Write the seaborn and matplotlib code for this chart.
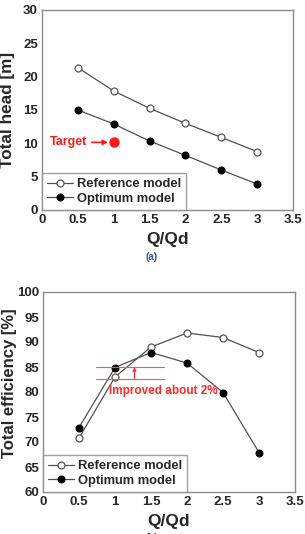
import matplotlib
matplotlib.use("Agg")
import matplotlib.pyplot as plt
import seaborn as sns
import pandas as pd

flow = [0.5, 1.0, 1.5, 2.0, 2.5, 3.0]
head_ref = [21.35, 17.85, 15.25, 13.0, 10.9, 8.75]
head_opt = [15.0, 12.9, 10.35, 8.2, 6.0, 3.9]
eff_ref = [70.8, 83.0, 89.0, 91.8, 90.9, 87.9]
eff_opt = [72.9, 84.9, 87.9, 85.8, 79.9, 67.9]
target_q, target_head = 1.0, 10.15
eff_lines = [85.0, 82.7]
x_ticks = [0, 0.5, 1, 1.5, 2, 2.5, 3, 3.5]
x_ticklabels = ["0", "0.5", "1", "1.5", "2", "2.5", "3", "3.5"]

sns.set_theme(style="white")
plt.rcParams['font.family'] = ['Liberation Sans', 'DejaVu Sans']
plt.rcParams['font.weight'] = 'bold'

fig = plt.figure(figsize=(3.05, 5.34), dpi=100)
W, H = 305, 534
ax1 = fig.add_axes([42 / W, (H - 210) / H, 251 / W, 200 / H])
ax2 = fig.add_axes([43 / W, (H - 492) / H, 252 / W, 200 / H])

line_c = "#505050"
frame_c = "#8a8a8a"


def draw(ax, yref, yopt):
    df_ref = pd.DataFrame({"x": flow, "y": yref})
    df_opt = pd.DataFrame({"x": flow, "y": yopt})
    sns.lineplot(data=df_ref, x="x", y="y", ax=ax, color=line_c, lw=0.9,
                 marker="o", markersize=5, markerfacecolor="white",
                 markeredgecolor="#555555", markeredgewidth=0.9,
                 label="Reference model")
    sns.lineplot(data=df_opt, x="x", y="y", ax=ax, color=line_c, lw=0.9,
                 marker="o", markersize=5, markerfacecolor="black",
                 markeredgecolor="black", label="Optimum model")
    ax.set_xlim(0, 3.5)
    ax.set_xticks(x_ticks)
    ax.set_xticklabels(x_ticklabels)
    ax.tick_params(axis="both", length=0, labelsize=9.5, pad=3)
    for lab in ax.get_xticklabels() + ax.get_yticklabels():
        lab.set_fontweight("bold")
    for s in ax.spines.values():
        s.set_color(frame_c)
        s.set_linewidth(1.0)
    ax.set_xlabel("Q/Qd", fontsize=12.5, fontweight="bold", labelpad=4)
    leg = ax.legend(loc="lower left", frameon=True, fancybox=False,
                    borderaxespad=0, edgecolor=frame_c, fontsize=9.3,
                    handlelength=2.0, handletextpad=0.3, borderpad=0.4,
                    labelspacing=0.2)
    leg.get_frame().set_linewidth(1.0)
    for t in leg.get_texts():
        t.set_fontweight("bold")


draw(ax1, head_ref, head_opt)
ax1.set_ylim(0, 30)
ax1.set_yticks([0, 5, 10, 15, 20, 25, 30])
ax1.set_ylabel("Total head [m]", fontsize=12.3, fontweight="bold")
ax1.yaxis.set_label_coords(-0.108, 0.5)
ax1.plot([target_q], [target_head], "o", color="#ff1a1a", markersize=6.5)
ax1.annotate("Target", xy=(0.92, target_head), xytext=(0.63, target_head),
             ha="right", va="center", color="#ff1a1a", fontsize=9,
             fontweight="bold",
             arrowprops=dict(arrowstyle="-|>", color="#ff1a1a", lw=1.2,
                             mutation_scale=7, shrinkA=1, shrinkB=0))

draw(ax2, eff_ref, eff_opt)
ax2.set_ylim(60, 100)
ax2.set_yticks([60, 65, 70, 75, 80, 85, 90, 95, 100])
ax2.set_ylabel("Total efficiency [%]", fontsize=12, fontweight="bold")
ax2.yaxis.set_label_coords(-0.103, 0.545)
for yv in eff_lines:
    ax2.plot([0.74, 1.68], [yv, yv], color="#ff5050", lw=0.8)
ax2.annotate("", xy=(1.27, eff_lines[0]), xytext=(1.27, eff_lines[1]),
             arrowprops=dict(arrowstyle="-|>", color="#ff3030", lw=0.9,
                             mutation_scale=5, shrinkA=0, shrinkB=0))
ax2.text(1.67, 80.2, "Improved about 2%", color="#ff2a2a", fontsize=8.5,
         fontweight="bold", ha="center", va="center")

fig.text(152 / W, 1 - 257 / H, "(a)", color="#2f5597", fontsize=7,
         ha="center", va="center", fontweight="bold")
fig.text(152 / W, 1 - 538 / H, "(b)", color="#2f5597", fontsize=7,
         ha="center", va="center", fontweight="bold")

fig.savefig("out.png", dpi=100)
